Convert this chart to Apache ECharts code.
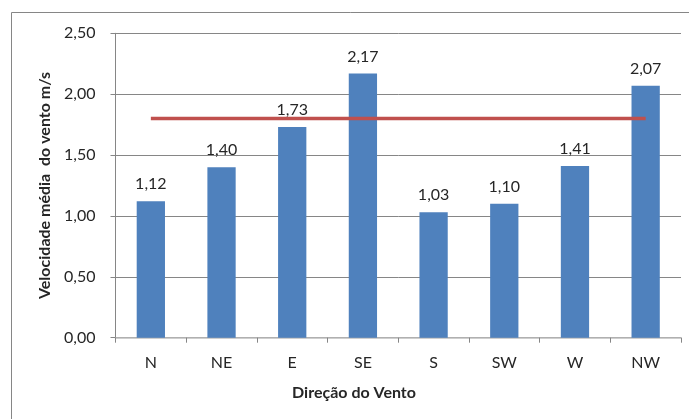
<!DOCTYPE html>
<html>
<head>
<meta charset="utf-8">
<script src="https://cdn.jsdelivr.net/npm/echarts@6/dist/echarts.min.js"></script>
<style>
  html, body { margin: 0; padding: 0; background: #fff; }
  #chart { width: 689px; height: 419px; }
</style>
</head>
<body>
<div id="chart"></div>
<script>
// Wind direction categories and mean wind speed per direction (m/s)
const directions = ['N', 'NE', 'E', 'SE', 'S', 'SW', 'W', 'NW'];
const meanSpeed = [1.12, 1.40, 1.73, 2.17, 1.03, 1.10, 1.41, 2.07];
// Overall reference level drawn as a horizontal line across all directions
const overallMean = [1.80, 1.80, 1.80, 1.80, 1.80, 1.80, 1.80, 1.80];
const yTicks = [0, 0.5, 1.0, 1.5, 2.0, 2.5];

const FONT = 'Lato, "Open Sans", sans-serif';
const fmt = v => Number(v).toFixed(2).replace('.', ',');

const chart = echarts.init(document.getElementById('chart'), null, { renderer: 'canvas' });

chart.setOption({
  animation: false,
  backgroundColor: '#ffffff',
  textStyle: { fontFamily: FONT },
  grid: { left: 115.5, right: 8, top: 33.3, bottom: 81.3, containLabel: false },
  xAxis: {
    type: 'category',
    data: directions,
    boundaryGap: true,
    axisLine: { show: true, lineStyle: { color: '#BFBFBF', width: 1.5 } },
    axisTick: { show: true, length: 5, alignWithLabel: false, lineStyle: { color: '#868686' } },
    axisLabel: { color: '#262626', fontSize: 16, fontFamily: FONT, margin: 17 }
  },
  yAxis: {
    type: 'value',
    min: yTicks[0],
    max: yTicks[yTicks.length - 1],
    interval: 0.5,
    name: 'Velocidade média  do vento m/s',
    nameLocation: 'middle',
    nameGap: 54,
    nameTextStyle: { color: '#262626', fontSize: 16, fontWeight: 'bold', fontFamily: FONT },
    axisLine: { show: true, lineStyle: { color: '#868686', width: 1 } },
    axisTick: { show: true, length: 5, lineStyle: { color: '#868686' } },
    splitLine: { show: true, lineStyle: { color: '#868686', width: 1 } },
    axisLabel: { color: '#262626', fontSize: 16, fontFamily: FONT, margin: 20, formatter: fmt }
  },
  series: [
    {
      type: 'bar',
      data: meanSpeed,
      barWidth: '40%',
      itemStyle: { color: '#4F81BD' },
      label: {
        show: true,
        position: 'top',
        distance: 9,
        color: '#262626',
        fontSize: 16,
        fontFamily: FONT,
        formatter: p => fmt(p.value)
      },
      z: 2
    },
    {
      type: 'line',
      data: overallMean,
      symbol: 'none',
      lineStyle: { color: '#C0504D', width: 3.5 },
      itemStyle: { color: '#C0504D' },
      z: 3
    }
  ],
  graphic: [
    {
      type: 'rect',
      shape: { x: 11.5, y: 12.5, width: 720, height: 460 },
      style: { fill: 'none', stroke: '#868686', lineWidth: 1 },
      silent: true,
      z: -1
    },
    {
      type: 'text',
      x: 354,
      y: 393,
      style: {
        text: 'Direção do Vento',
        fill: '#262626',
        font: 'bold 16px ' + FONT,
        textAlign: 'center',
        textVerticalAlign: 'middle'
      },
      silent: true
    }
  ]
});
</script>
</body>
</html>
